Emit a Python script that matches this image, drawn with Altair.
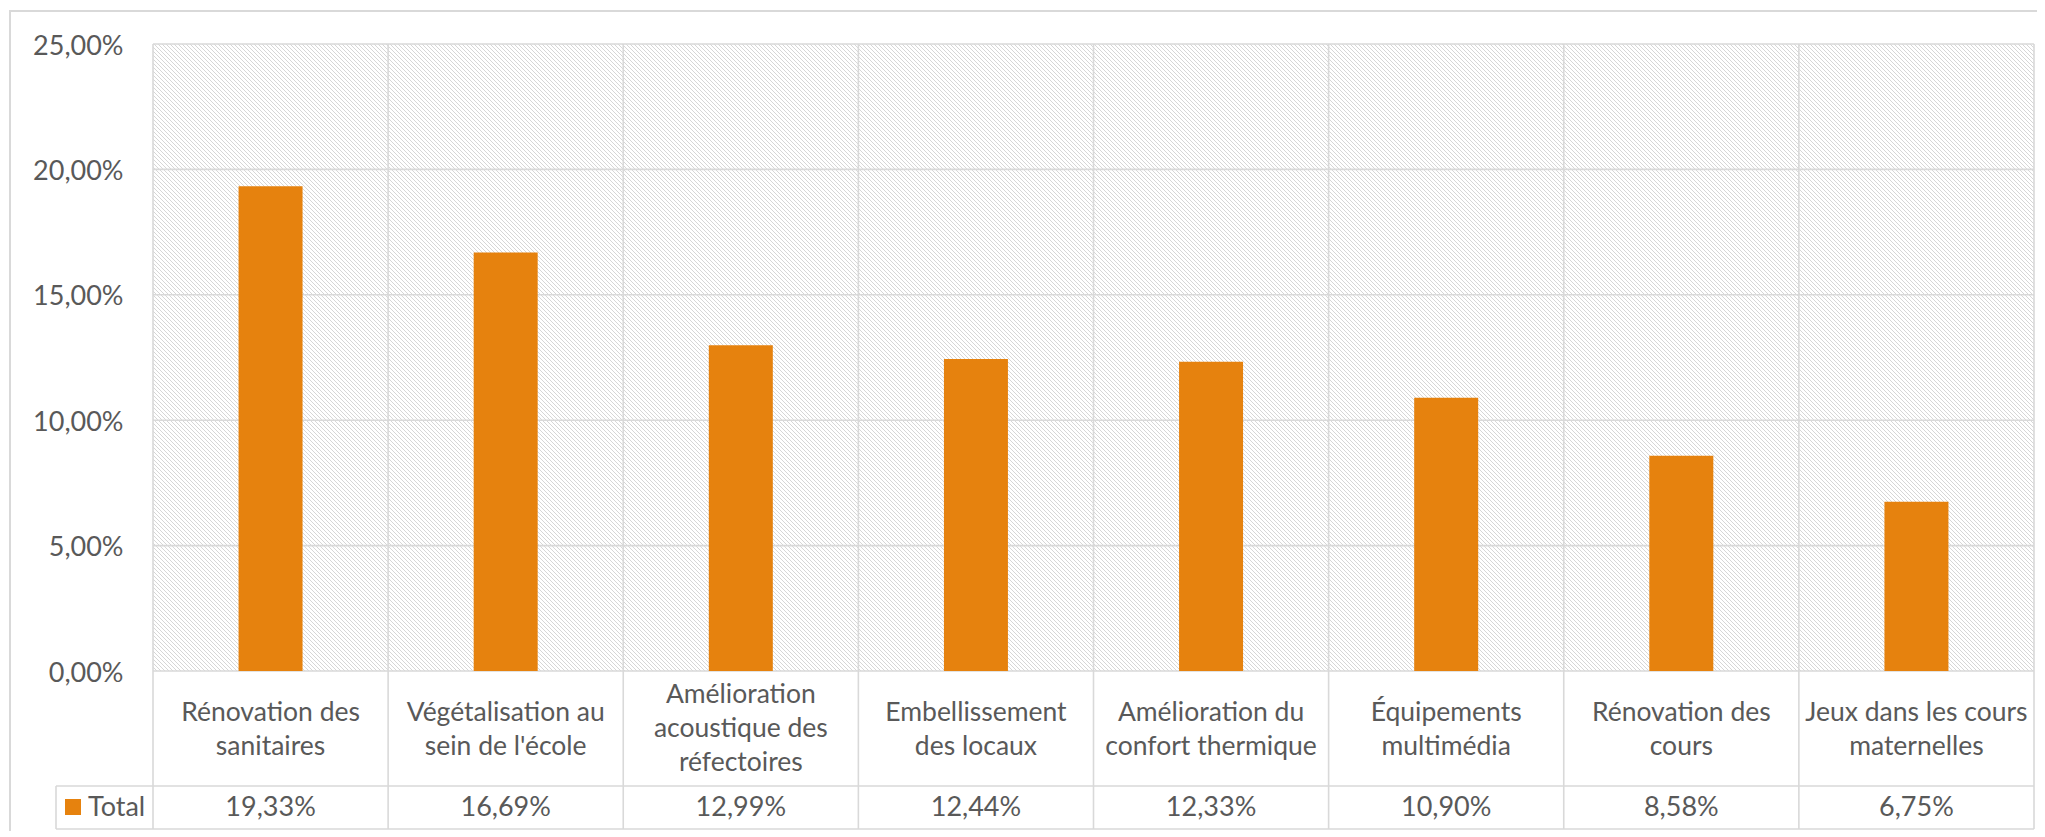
import altair as alt
import pandas as pd

categories = [
    "Rénovation des\nsanitaires",
    "Végétalisation au\nsein de l'école",
    "Amélioration\nacoustique des\nréfectoires",
    "Embellissement\ndes locaux",
    "Amélioration du\nconfort thermique",
    "Équipements\nmultimédia",
    "Rénovation des\ncours",
    "Jeux dans les cours\nmaternelles",
]
values = [19.33, 16.69, 12.99, 12.44, 12.33, 10.90, 8.58, 6.75]
y_ticks = [0, 5, 10, 15, 20, 25]
series_name = "Total"

W, H = 1881, 627
FONT = "Lato"
TXT = "#595959"
LINE = "#d9d9d9"
ORANGE = "#E6820E"
HATCH_STEP = 4  # px between hatch lines (horizontal)

df = pd.DataFrame({
    "cat": categories,
    "value": values,
    "txt": [f"{v:.2f}".replace(".", ",") + "%" for v in values],
})
ticks_df = pd.DataFrame({"t": y_ticks})

xscale = alt.Scale(domain=categories, paddingInner=0, paddingOuter=0)
yscale = alt.Scale(domain=[0, 25], nice=False)

one = alt.Data(values=[{}])

bg = alt.Chart(one).mark_rect(fill="#ffffff", strokeWidth=0).encode(
    x=alt.value(0), x2=alt.value(W), y=alt.value(0), y2=alt.value(H)
)

# decorative diagonal hatch of the plot area (Excel pattern fill)
hatch = alt.Chart(alt.sequence(-H, W, HATCH_STEP, as_="x0")).transform_calculate(
    x1="datum.x0 + " + str(H), y0="0", y1=str(H)
).mark_rule(color="#d6d6d6", strokeWidth=1, clip=True).encode(
    x=alt.X("x0:Q", scale=None, axis=None),
    x2="x1:Q",
    y=alt.Y("y0:Q", scale=None, axis=None),
    y2="y1:Q",
)

outer = alt.Chart(one).mark_rect(fill=None, stroke=LINE, strokeWidth=2).encode(
    x=alt.value(-143), x2=alt.value(W + 40), y=alt.value(-33), y2=alt.value(H + 300)
)

hgrid = alt.Chart(ticks_df).mark_rule(color=LINE, strokeWidth=1.6).encode(
    y=alt.Y("t:Q", scale=yscale, axis=alt.Axis(
        values=y_ticks,
        labelExpr="replace(format(datum.value, '.2f'), '.', ',') + '%'",
        ticks=False, tickSize=0, domain=False, grid=False, title=None,
        labelPadding=30, labelFontSize=27, labelFont=FONT, labelColor=TXT,
        labelOffset=2, orient="left",
    ))
)

vgrid = alt.Chart(df).mark_rule(color=LINE, strokeWidth=1.6).encode(
    x=alt.X("cat:N", scale=xscale, sort=categories, bandPosition=0, axis=None),
    y=alt.value(0), y2=alt.value(785),
)

right_edge = alt.Chart(one).mark_rule(color=LINE, strokeWidth=1.6).encode(
    x=alt.value(W), y=alt.value(0), y2=alt.value(785)
)

table_top = alt.Chart(one).mark_rule(color=LINE, strokeWidth=1.6).encode(
    x=alt.value(-97), x2=alt.value(W), y=alt.value(742)
)
table_bottom = alt.Chart(one).mark_rule(color=LINE, strokeWidth=1.6).encode(
    x=alt.value(-97), x2=alt.value(W), y=alt.value(785)
)
table_left = alt.Chart(one).mark_rule(color=LINE, strokeWidth=1.6).encode(
    x=alt.value(-97), y=alt.value(742), y2=alt.value(785)
)

bars = alt.Chart(df).mark_bar(size=64, color=ORANGE).encode(
    x=alt.X("cat:N", scale=xscale, sort=categories, axis=None),
    y=alt.Y("value:Q", scale=yscale, axis=None),
)


def cat_layer(n_lines, y_first):
    return alt.Chart(df).transform_calculate(
        nl="length(split(datum.cat, '\\n'))"
    ).transform_filter(
        "datum.nl == " + str(n_lines)
    ).mark_text(
        font=FONT, fontSize=26.5, color=TXT, lineBreak="\n", lineHeight=34,
        baseline="middle", align="center",
    ).encode(
        x=alt.X("cat:N", scale=xscale, sort=categories, axis=None),
        y=alt.value(y_first),
        text="cat:N",
    )


cat2 = cat_layer(2, 668.5)
cat3 = cat_layer(3, 651)

val_labels = alt.Chart(df).mark_text(
    font=FONT, fontSize=27, color=TXT, baseline="middle", align="center",
).encode(
    x=alt.X("cat:N", scale=xscale, sort=categories, axis=None),
    y=alt.value(764),
    text="txt:N",
)

legend_sq = alt.Chart(one).mark_rect(color=ORANGE).encode(
    x=alt.value(-88), x2=alt.value(-72), y=alt.value(755), y2=alt.value(771)
)
legend_txt = alt.Chart(alt.Data(values=[{"s": series_name}])).mark_text(
    font=FONT, fontSize=27, color=TXT, baseline="middle", align="left",
).encode(x=alt.value(-65), y=alt.value(764), text="s:N")

chart = alt.layer(
    outer, bg, hatch, hgrid, vgrid, right_edge, table_top, table_bottom, table_left,
    bars, cat2, cat3, val_labels, legend_sq, legend_txt,
).resolve_scale(x="independent", y="independent").properties(
    width=W, height=H,
    autosize=alt.AutoSizeParams(type="none"),
    padding={"left": 145, "top": 36, "right": 3, "bottom": 160},
    background="white",
).configure_view(stroke=None)

chart.save("out.html", embed_options={"renderer": "svg", "actions": False})
